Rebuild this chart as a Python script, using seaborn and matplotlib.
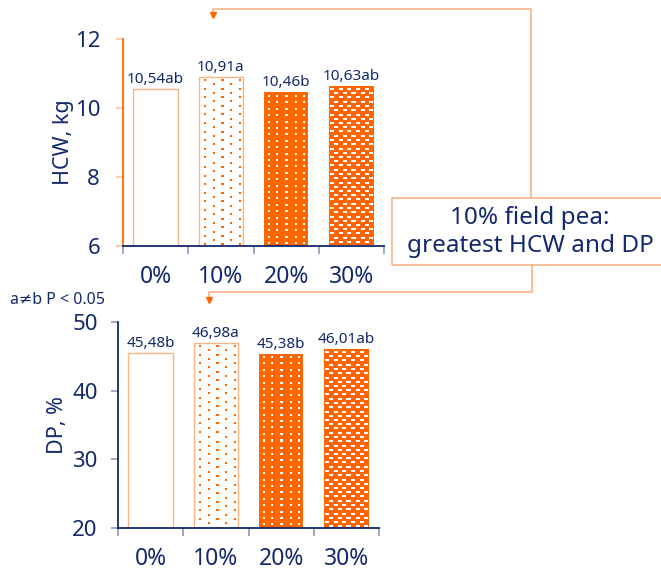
import numpy as np
import matplotlib
matplotlib.use("Agg")
import matplotlib.pyplot as plt
from matplotlib.colors import to_rgba
from matplotlib.lines import Line2D
from matplotlib.patches import Rectangle
import seaborn as sns

# ---- data ----
groups = ["0%", "10%", "20%", "30%"]
hcw_values = [10.54, 10.91, 10.46, 10.63]
hcw_letters = ["ab", "a", "b", "ab"]
dp_values = [45.48, 46.98, 45.38, 46.01]
dp_letters = ["b", "a", "b", "ab"]
hcw_ticks = [6, 8, 10, 12]
dp_ticks = [20, 30, 40, 50]

NAVY = "#13296B"
ORANGE = "#FF6600"
PEACH = "#F9B488"
TICK_GREY = "#8E9AB8"

sns.set_style("ticks")
plt.rcParams["font.family"] = ["Noto Sans", "DejaVu Sans"]

W, H = 661, 570
fig = plt.figure(figsize=(W / 100, H / 100), dpi=100)


def px(x, y):
    """Pixel position (from top-left) to figure fraction."""
    return x / W, 1 - y / H


def dot_texture(w, h, color, dx, dy, size, stagger, x_start, y_start):
    arr = np.zeros((h, w, 4))
    rgba = to_rgba(color)
    row = 0
    y = y_start
    while y < h:
        x = x_start + (dx / 2 if (stagger and row % 2) else 0)
        while x < w:
            yi, xi = int(round(y)), int(round(x))
            arr[yi:yi + size[1], xi:xi + size[0]] = rgba
            x += dx
        y += dy
        row += 1
    return arr


# fill style per bar: face, edge, texture generator (or None)
bar_styles = [
    dict(face="white", edge=PEACH, texture=None),
    dict(face="white", edge=PEACH,
         texture=lambda w, h: dot_texture(w, h, ORANGE, 17, 4.3, (2, 2), True, 5, 3)),
    dict(face=ORANGE, edge=None,
         texture=lambda w, h: dot_texture(w, h, "white", 8.5, 6.4, (2, 2), False, 4, 3)),
    dict(face=ORANGE, edge=None,
         texture=lambda w, h: dot_texture(w, h, "white", 8.5, 4.25, (4, 2), True, 1, 2)),
]


def add_texture(ax, patch, make):
    y_lo = max(patch.get_y(), ax.get_ylim()[0])
    x0, x1 = patch.get_x(), patch.get_x() + patch.get_width()
    y1 = patch.get_y() + patch.get_height()
    (d0x, d0y), (d1x, d1y) = ax.transData.transform([(x0, y_lo), (x1, y1)])
    w, h = int(round(d1x - d0x)), int(round(d1y - d0y))
    arr = make(w, h)
    im = ax.imshow(arr, extent=(x0, x1, y_lo, y1), origin="upper",
                   aspect="auto", interpolation="nearest",
                   zorder=patch.get_zorder() + 0.2)
    im.set_clip_path(patch)


def draw_panel(rect, values, letters, ticks, ylabel, left_color, ytick_color,
               ytick_pad, label_x):
    ax = fig.add_axes(rect)
    sns.barplot(x=groups, y=values, ax=ax, width=0.68, color="white",
                saturation=1, errorbar=None)
    ax.set_xlim(-0.5, len(groups) - 0.5)
    ax.set_ylim(ticks[0], ticks[-1])
    ax.set_yticks(ticks)

    for p, style, v, let in zip(ax.patches, bar_styles, values, letters):
        p.set_facecolor(style["face"])
        p.set_edgecolor("none")
        p.set_linewidth(0)
        if style["texture"] is not None:
            add_texture(ax, p, style["texture"])
        if style["edge"] is not None:
            ax.add_patch(Rectangle((p.get_x(), p.get_y()), p.get_width(),
                                   p.get_height(), fill=False,
                                   ec=style["edge"], lw=1.0,
                                   zorder=p.get_zorder() + 0.4))
        label = f"{v:.2f}".replace(".", ",") + let
        ax.annotate(label, (p.get_x() + p.get_width() / 2, v),
                    xytext=(0, 4.3), textcoords="offset points",
                    ha="center", va="baseline", fontsize=11, color=NAVY)

    sns.despine(ax=ax)
    ax.spines["left"].set_color(left_color)
    ax.spines["left"].set_linewidth(1.3)
    ax.spines["bottom"].set_color(NAVY)
    ax.spines["bottom"].set_linewidth(1.3)

    ax.set_xticks(range(len(groups)))
    ax.set_xticklabels(groups)
    ax.set_xticks([i - 0.5 for i in range(len(groups) + 1)], minor=True)
    ax.tick_params(axis="x", which="major", length=0, pad=14,
                   labelsize=16.5, labelcolor=NAVY)
    ax.tick_params(axis="x", which="minor", length=5.5, width=1.2,
                   color=TICK_GREY, direction="out")
    ax.tick_params(axis="y", which="major", length=5, width=1.2,
                   color=ytick_color, pad=ytick_pad, labelsize=16,
                   labelcolor=NAVY, direction="out")
    ax.set_xlabel("")
    ax.set_ylabel(ylabel, fontsize=15.5, color=NAVY)
    ax.yaxis.set_label_coords(label_x, 0.5)
    return ax


draw_panel([123 / W, 1 - 246 / H, 261 / W, 207 / H], hcw_values, hcw_letters,
           hcw_ticks, "HCW, kg", ORANGE, "#F9C4A0", 11.5, -0.188)
draw_panel([118 / W, 1 - 528 / H, 261 / W, 206 / H], dp_values, dp_letters,
           dp_ticks, "DP, %", NAVY, TICK_GREY, 9.7, -0.19)

# callout box
bx0, by0 = px(392, 265)
bx1, by1 = px(700, 198)
fig.add_artist(Rectangle((bx0, by0), bx1 - bx0, by1 - by0,
                         transform=fig.transFigure, fill=False, ec=PEACH,
                         lw=1.2))
tx, ty = px(530, 232)
fig.text(tx, ty, "10% field pea:\ngreatest HCW and DP", ha="center",
         va="center", fontsize=17.5, color=NAVY, linespacing=1.2)

# connectors from the box to the 10% bars
for pts in ([(531, 198), (531, 9), (213, 9), (213, 15)],
            [(532, 265), (532, 292), (209, 292), (209, 300)]):
    xs, ys = zip(*[px(x, y) for x, y in pts])
    fig.add_artist(Line2D(xs, ys, transform=fig.transFigure, color=PEACH,
                          lw=1.2))
    ax_, ay_ = px(*pts[-1])
    fig.add_artist(Line2D([ax_], [ay_], transform=fig.transFigure,
                          marker="v", markersize=4, color=ORANGE, lw=0))

nx, ny = px(10, 300)
fig.text(nx, ny, "a≠b P < 0.05", ha="left", va="center", fontsize=11.5,
         color=NAVY)

fig.savefig("out.png", dpi=100)
